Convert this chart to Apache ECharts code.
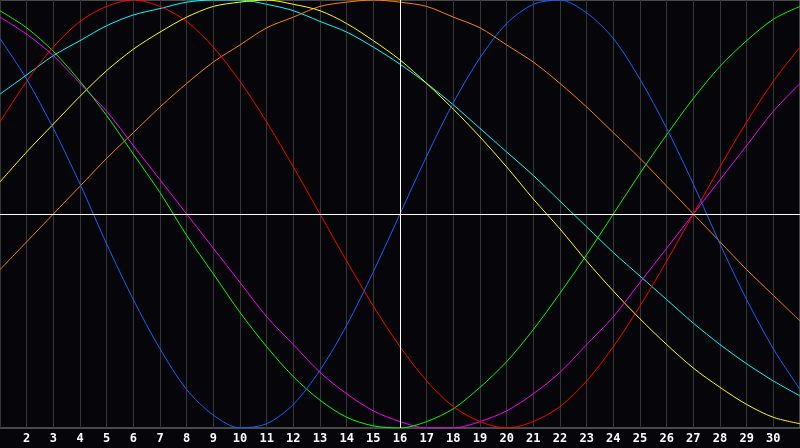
<!DOCTYPE html>
<html>
<head>
<meta charset="utf-8">
<script src="https://cdn.jsdelivr.net/npm/echarts@6/dist/echarts.min.js"></script>
<style>
  html, body { margin: 0; padding: 0; background: #060509; }
  #chart { width: 800px; height: 448px; }
</style>
</head>
<body>
<div id="chart"></div>
<script>
// days of the month, one column each
let days = [];
for (let d = 1; d <= 31; d++) days.push(d);

// values, -100..100
let blue = [82, 63, 40, 14, -14, -40, -63, -82, -94, -100, -98, -89, -73, -52, -27, 0,
            27, 52, 73, 89, 98, 100, 94, 82, 63, 40, 14, -14, -40, -63, -82];
let red = [43, 62, 78, 90, 97, 100, 97, 90, 78, 62, 43, 22, 0, -22, -43, -62,
           -78, -90, -97, -100, -97, -90, -78, -62, -43, -22, 0, 22, 43, 62, 78];
let green = [95, 87, 76, 62, 46, 28, 10, -10, -28, -46, -62, -76, -87, -95, -99, -100,
             -97, -91, -81, -69, -54, -37, -19, 0, 19, 37, 54, 69, 81, 91, 97];
let magenta = [92, 84, 74, 61, 48, 32, 16, 0, -16, -32, -48, -61, -74, -84, -92, -97,
               -100, -100, -97, -92, -84, -74, -61, -48, -32, -16, 0, 16, 32, 48, 61];
let yellow = [15, 29, 42, 55, 67, 77, 85, 92, 97, 99, 100, 98, 95, 89, 81, 72,
              61, 49, 36, 22, 7, -7, -22, -36, -49, -61, -72, -81, -89, -95, -98];
let orange = [-26, -13, 0, 13, 26, 38, 50, 61, 71, 79, 87, 92, 97, 99, 100, 99,
              97, 92, 87, 79, 71, 61, 50, 38, 26, 13, 0, -13, -26, -38, -50];
let cyan = [56, 65, 74, 81, 88, 93, 96, 99, 100, 100, 98, 95, 90, 85, 78, 70,
            61, 51, 40, 29, 18, 6, -6, -18, -29, -40, -51, -61, -70, -78, -85];

let today = 16;

function pairs(arr) {
    return days.map(function (d, i) { return [d, arr[i]]; });
}

function curve(name, color, arr) {
    return {
        name: name,
        type: 'line',
        smooth: 0.3,
        showSymbol: false,
        silent: true,
        lineStyle: { color: color, width: 1 },
        data: pairs(arr)
    };
}

let series = [
    curve('cyan', '#00ffff', cyan),
    curve('orange', '#ff8000', orange),
    curve('yellow', '#ffff00', yellow),
    curve('magenta', '#ff00ff', magenta),
    curve('green', '#00ff00', green),
    curve('red', '#ff0000', red),
    curve('blue', '#1166ff', blue)
];
// zero line and today line
series[0].markLine = {
    silent: true,
    symbol: 'none',
    label: { show: false },
    lineStyle: { color: '#ffffff', width: 1, type: 'solid' },
    data: [{ yAxis: 0 }, { xAxis: today }]
};

let option = {
    backgroundColor: '#060509',
    animation: false,
    grid: {
        left: 0,
        right: 0,
        top: 0,
        bottom: 20,
        show: true,
        borderColor: '#8c8c8c',
        borderWidth: 1
    },
    xAxis: {
        type: 'value',
        min: 1,
        max: 31,
        interval: 1,
        axisLine: { show: true, lineStyle: { color: '#8c8c8c' } },
        axisTick: { show: false },
        axisLabel: {
            showMinLabel: false,
            showMaxLabel: false,
            color: '#ffffff',
            fontFamily: 'DejaVu Sans Mono',
            fontWeight: 'bold',
            fontSize: 12,
            margin: 5
        },
        splitLine: { show: true, lineStyle: { color: '#363636', width: 1 } }
    },
    yAxis: {
        type: 'value',
        min: -100,
        max: 100,
        axisLine: { show: false },
        axisTick: { show: false },
        axisLabel: { show: false },
        splitLine: { show: false }
    },
    series: series
};

let myChart = echarts.init(document.getElementById('chart'));
myChart.setOption(option);
</script>
</body>
</html>
